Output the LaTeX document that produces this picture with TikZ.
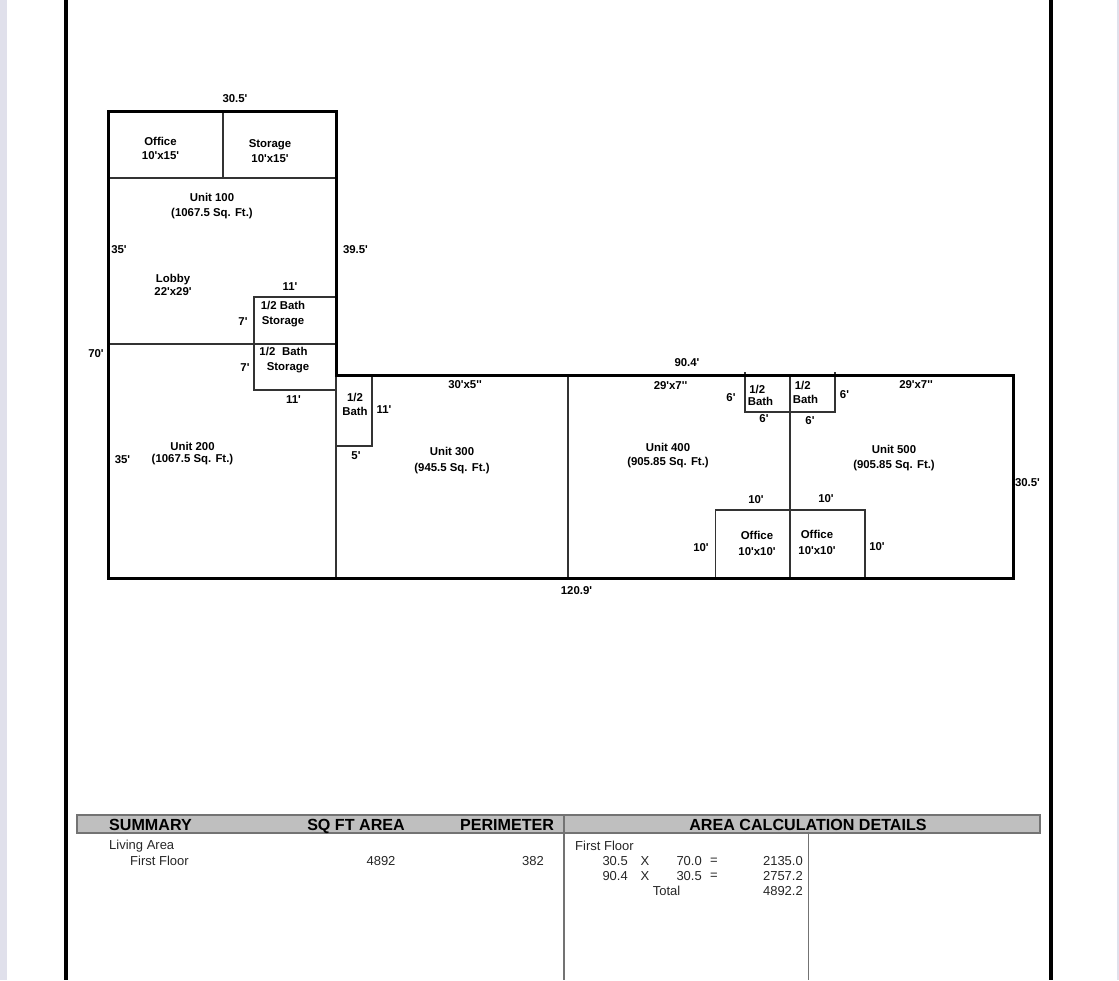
\documentclass[tikz,border=0pt]{standalone}
\usepackage{fontspec}
\newfontfamily\planfont{Liberation Sans}
\definecolor{band}{rgb}{.75,.75,.75}
\definecolor{rule}{rgb}{.45,.45,.45}
\definecolor{edge}{rgb}{.88,.88,.92}
\tikzset{
  wall/.style={line width=3pt, line cap=rect},
  room/.style={line width=1.2pt, black!80},
  lbl/.style={font=\planfont\bfseries\fontsize{11.4}{14.5}\selectfont, align=center, inner sep=0pt},
  head/.style={font=\planfont\bfseries\fontsize{16.1}{18}\selectfont, inner sep=0pt, text depth=0pt},
  cell/.style={font=\planfont\fontsize{13}{15}\selectfont, inner sep=0pt, text=black!85}
}

\begin{document}
\begin{tikzpicture}[x=1pt,y=-1pt]
\useasboundingbox (0,0) rectangle (1119,980);
\coordinate (o) at (108,111);
\coordinate (a) at (336,111);
\coordinate (b) at (336,375);
\coordinate (c) at (1013,375);
\coordinate (d) at (1013,578);
\coordinate (e) at (108,578);

% page
\fill[edge] (0,0) rectangle (7,980);
\fill[edge] (1117,0) rectangle (1119,980);
\draw[line width=3.6pt] (66,0) -- (66,980);
\draw[line width=3.8pt] (1051,0) -- (1051,980);

% rooms
\draw[room] (108,178) -- (336,178);
\draw[room] (223,111) -- (223,178);
\draw[room] (108,344) -- (336,344);
\draw[room] (336,297) -- (254,297) -- (254,390) -- (336,390);
\draw[room] (336,446) -- (372,446) -- (372,375);
\draw[room] (336,375) -- (336,578);
\draw[room] (568,375) -- (568,578);
\draw[room] (790,375) -- (790,578);
\draw[room] (745,372) -- (745,412) -- (835,412) -- (835,372);
\draw[room] (715.5,578) -- (715.5,510) -- (865,510) -- (865,578);
\draw[wall] (o) -- (a) -- (b) -- (c) -- (d) -- (e) -- cycle;

% labels
\node[lbl] (office1) at (160.5,148.5) {Office\\10'x15'};
\node[lbl] (storage1) at (270,151) {Storage\\10'x15'};
\node[lbl] (unit100) at (212,206) {Unit 100\\(1067.5 Sq. Ft.)};
\node[lbl] (lobby) at (173,284.5) {Lobby\\[-1.5pt]22'x29'};
\node[lbl] (bath1) at (283,314) {1/2 Bath\\Storage};
\node[lbl] (bath2) at (283.5,351) {1/2\hspace{.6em}Bath};
\node[lbl] (storage2) at (288,368) {Storage};
\node[lbl] (unit200) at (192.5,453.5) {Unit 200\\[-2pt]\hspace{0pt}(1067.5 Sq. Ft.)};
\node[lbl] (bath3) at (355,404.5) {1/2\\[-.5pt]Bath};
\node[lbl] (unit300) at (452,460.5) {Unit 300\\[1pt](945.5 Sq. Ft.)};
\node[lbl] (unit400) at (668,455.5) {Unit 400\\(905.85 Sq. Ft.)};
\node[lbl] (unit500) at (894,458) {Unit 500\\(905.85 Sq. Ft.)};
\node[lbl, align=left] (bath4) at (760.5,395.5) {\hspace{1.5pt}1/2\\[-2pt]Bath};
\node[lbl, align=left] (bath5) at (805.5,392.5) {\hspace{2pt}1/2\\Bath};
\node[lbl] (office2) at (757,543) {Office\\[1.5pt]10'x10'};
\node[lbl] (office3) at (817,542) {Office\\[1.5pt]10'x10'};

\node[lbl] (d305a) at (235,99) {30.5'};
\node[lbl] (d35a) at (119,250) {35'};
\node[lbl] (d395) at (355.5,250) {39.5'};
\node[lbl] (d11a) at (290,287) {11'};
\node[lbl] (d7a) at (243,322) {7'};
\node[lbl] (d70) at (96,353.5) {70'};
\node[lbl] (d7b) at (245,368) {7'};
\node[lbl] (d11b) at (293.5,399.5) {11'};
\node[lbl] (d35b) at (122.5,460) {35'};
\node[lbl] (d11c) at (384,410) {11'};
\node[lbl] (d5) at (356,455.5) {5'};
\node[lbl] (d305x) at (465,384.5) {30'x5''};
\node[lbl] (d904) at (687,363) {90.4'};
\node[lbl] (d29a) at (670.5,386) {29'x7''};
\node[lbl] (d6a) at (731,398) {6'};
\node[lbl] (d6b) at (764,419) {6'};
\node[lbl] (d6c) at (810,421) {6'};
\node[lbl] (d6d) at (844.5,395) {6'};
\node[lbl] (d29b) at (916,384.5) {29'x7''};
\node[lbl] (d305b) at (1027.5,483) {30.5'};
\node[lbl] (d10a) at (756,500) {10'};
\node[lbl] (d10b) at (826,498.5) {10'};
\node[lbl] (d10c) at (701,547.5) {10'};
\node[lbl] (d10d) at (877,547) {10'};
\node[lbl] (d1209) at (576.5,591) {120.9'};

% summary table
\draw[rule, fill=band, line width=1.2pt] (77,815) rectangle (1040,833);
\draw[rule, line width=1.2pt] (564,815) -- (564,980);
\draw[rule, line width=1.2pt] (808.5,833) -- (808.5,980);
\node[head] (summary) at (150.5,825) {SUMMARY};
\node[head] (sqft) at (356,825) {SQ FT AREA};
\node[head] (perim) at (507,825) {PERIMETER};
\node[head] (details) at (808,825) {AREA CALCULATION DETAILS};

\node[cell, anchor=west] (living) at (109,846) {Living Area};
\node[cell, anchor=west] (floor1) at (130,861) {First Floor};
\node[cell] (area) at (381,861) {4892};
\node[cell] (per) at (533,861) {382};
\node[cell, anchor=west] (floor2) at (575,846) {First Floor};
\node[cell, anchor=east] (w1) at (628,861) {30.5};
\node[cell] (x1) at (645,861) {X};
\node[cell, anchor=east] (h1) at (702,861) {70.0};
\node[cell] (eq1) at (714,861) {=};
\node[cell, anchor=east] (r1) at (803,861) {2135.0};
\node[cell, anchor=east] (w2) at (628,876) {90.4};
\node[cell] (x2) at (645,876) {X};
\node[cell, anchor=east] (h2) at (702,876) {30.5};
\node[cell] (eq2) at (714,876) {=};
\node[cell, anchor=east] (r2) at (803,876) {2757.2};
\node[cell] (total) at (666.5,891) {Total};
\node[cell, anchor=east] (r3) at (803,891) {4892.2};
\end{tikzpicture}
\end{document}
